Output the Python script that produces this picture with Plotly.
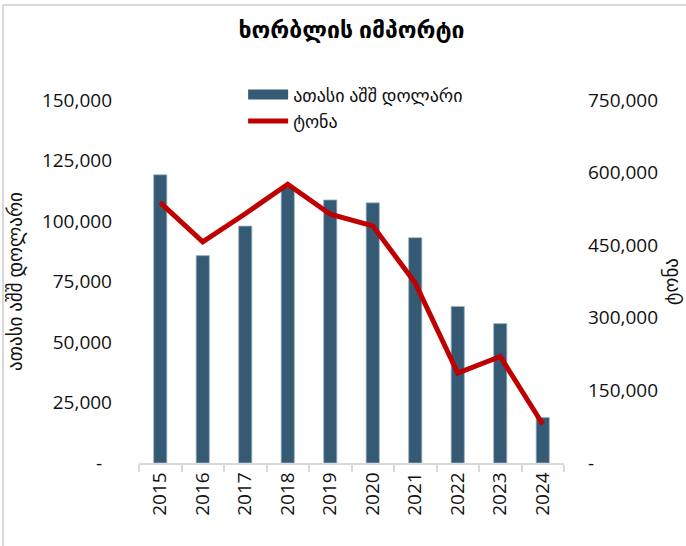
import plotly.graph_objects as go

years = ["2015", "2016", "2017", "2018", "2019", "2020", "2021", "2022", "2023", "2024"]
usd_thousand = [119100, 85700, 97900, 114000, 108700, 107500, 93100, 64700, 57600, 18800]
tonnes = [538000, 457000, 515000, 576000, 514000, 490000, 372000, 186000, 220000, 80000]

left_ticks = [0, 25000, 50000, 75000, 100000, 125000, 150000]
left_text = ["-\u00a0\u00a0", "25,000", "50,000", "75,000", "100,000", "125,000", "150,000"]
right_ticks = [0, 150000, 300000, 450000, 600000, 750000]
right_text = ["-", "150,000", "300,000", "450,000", "600,000", "750,000"]

title = "ხორბლის იმპორტი"
bar_name = "ათასი აშშ დოლარი"
line_name = "ტონა"

FONT = "'Open Sans', 'DejaVu Sans', sans-serif"
BAR_COLOR = "#345a74"

fig = go.Figure()
fig.add_trace(go.Bar(
    x=years, y=usd_thousand, name=bar_name,
    marker=dict(color=BAR_COLOR, line=dict(color="#9fb3c2", width=0.8)),
    width=0.31, yaxis="y", showlegend=False, legendgroup="usd",
))
# legend-only entry drawn as a wide swatch like the original legend
fig.add_trace(go.Scatter(
    x=[None], y=[None], name=bar_name, mode="lines", legendgroup="usd",
    line=dict(color=BAR_COLOR, width=11), yaxis="y", hoverinfo="skip",
))
fig.add_trace(go.Scatter(
    x=years, y=tonnes, name=line_name, mode="lines",
    line=dict(color="#c00000", width=5), yaxis="y2",
))

fig.update_layout(
    width=686, height=546,
    margin=dict(l=139, r=122, t=100, b=83),
    paper_bgcolor="white", plot_bgcolor="white",
    font=dict(family=FONT, size=19, color="#111111"),
    title=dict(text="<b>" + title + "</b>", x=0.5, xref="paper", xanchor="center",
               y=0.945, yref="container", yanchor="middle",
               font=dict(size=23, color="black")),
    showlegend=True,
    legend=dict(x=0.245, xanchor="left", y=1.065, yanchor="top",
                bgcolor="rgba(0,0,0,0)", font=dict(size=18),
                tracegroupgap=0, itemwidth=40, traceorder="normal"),
    xaxis=dict(
        type="category", showgrid=False, showline=True, linecolor="#d9d9d9", linewidth=1.5,
        ticks="outside", tickson="boundaries", ticklen=7, tickcolor="#d9d9d9", tickwidth=1.5,
        tickangle=-90, tickfont=dict(size=19),
    ),
    yaxis=dict(
        range=[0, 150000], tickvals=left_ticks, ticktext=left_text, showgrid=False,
        zeroline=False, showline=False, ticks="", ticklabelstandoff=26,
        title=dict(text=bar_name, standoff=14, font=dict(size=19)),
    ),
    yaxis2=dict(
        range=[0, 750000], tickvals=right_ticks, ticktext=right_text, overlaying="y",
        side="right", showgrid=False, zeroline=False, showline=False, ticks="",
        ticklabelstandoff=23,
        title=dict(text=line_name, standoff=0, font=dict(size=19)),
    ),
    bargap=0.69,
    shapes=[
        dict(type="line", xref="paper", yref="paper", x0=-0.32, x1=1.4, y0=1.2617, y1=1.2617,
             line=dict(color="#d9d9d9", width=2)),
        dict(type="line", xref="paper", yref="paper", x0=-0.32, x1=-0.32, y0=-0.3, y1=1.2617,
             line=dict(color="#d9d9d9", width=2)),
    ],
)

fig.write_html(
    "out.html",
    config={"displayModeBar": False},
    post_script="document.body.style.margin='0';document.body.style.overflow='hidden';",
)
